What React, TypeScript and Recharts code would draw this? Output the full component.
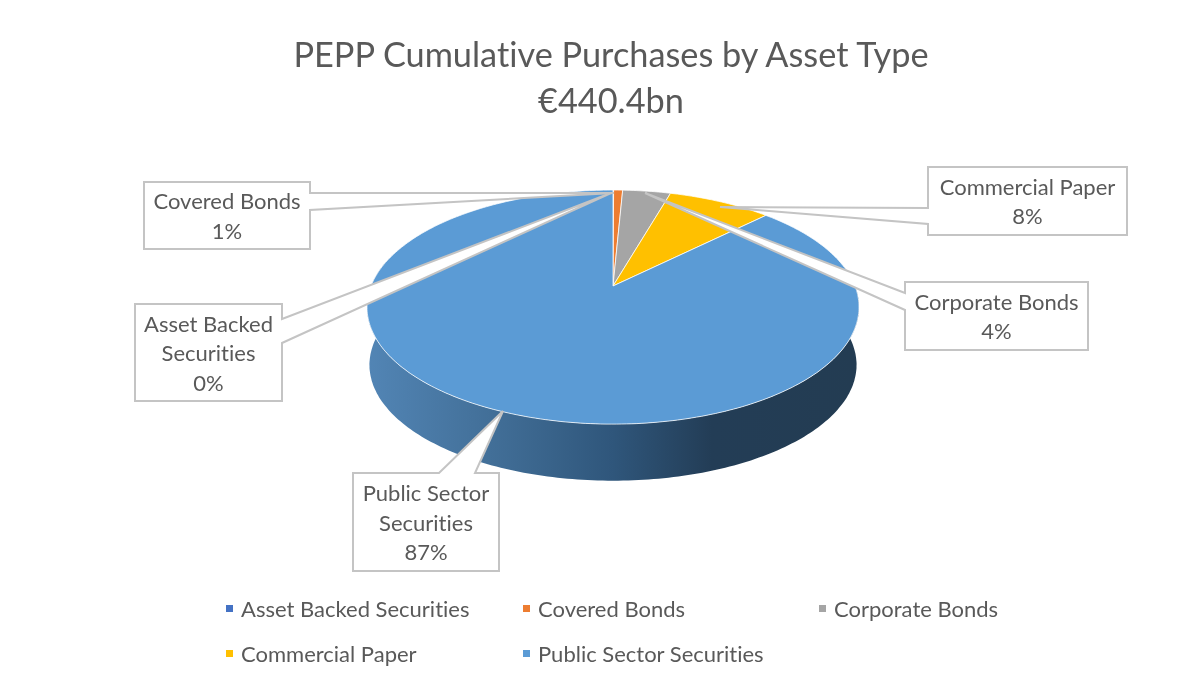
import React from 'react';
import { PieChart, Pie, Legend } from 'recharts';

const categories = ['Asset Backed Securities', 'Covered Bonds', 'Corporate Bonds', 'Commercial Paper', 'Public Sector Securities'];
const purchases = [0.2, 3.1, 16.5, 35.7, 384.9]; // EUR bn, estimated from the slices
const colors = ['#4472c4', '#ed7d31', '#a5a5a5', '#ffc000', '#5b9bd5'];
const labelLines = [['Asset Backed', 'Securities'], ['Covered Bonds'], ['Corporate Bonds'], ['Commercial Paper'], ['Public Sector', 'Securities']];
const titleLines = ['PEPP Cumulative Purchases by Asset Type', '€440.4bn'];

const chartData = categories.map((name, i) => ({ name, value: purchases[i], fill: colors[i] }));

const FONT = 'Lato, sans-serif';
const TEXT = '#595959';
const BORDER = '#c4c4c4';

// callout boxes, same order as the categories
const callouts = [
  { x: 135, y: 304, w: 147, h: 97, side: 'right', a: 319, b: 343, tip: [611, 193] },
  { x: 144, y: 182, w: 166, h: 67, side: 'right', a: 193, b: 210, tip: [614, 193] },
  { x: 905, y: 282, w: 183, h: 68, side: 'left', a: 293, b: 310, tip: [645, 193] },
  { x: 928, y: 167, w: 199, h: 68, side: 'left', a: 208, b: 224, tip: [720, 207] },
  { x: 353, y: 473, w: 146, h: 98, side: 'top', a: 439, b: 475, tip: [503, 411] },
];

// perspective of the tilted disc: far edge is squeezed, near edge stretched
const PERSPECTIVE = 0.18;
const Y_RATIO = 0.468;
const WALL_DROP = 58;
const WALL_SHRINK = 0.99;

const project = (cx: number, cy: number, r: number, deg: number) => {
  const t = (deg * Math.PI) / 180;
  const k = 1 + PERSPECTIVE * Math.cos(t);
  return [cx + (r * Math.sin(t)) / k, cy - (r * Y_RATIO * Math.cos(t)) / k];
};

const arcPoints = (cx: number, cy: number, r: number, from: number, to: number) => {
  const pts: number[][] = [];
  for (let d = from; d < to; d += 1) pts.push(project(cx, cy, r, d));
  pts.push(project(cx, cy, r, to));
  return pts;
};

const toPath = (pts: number[][]) => pts.map((p, i) => `${i ? 'L' : 'M'}${p[0].toFixed(1)},${p[1].toFixed(1)}`).join(' ') + ' Z';

const PerspectiveSector = (props: any) => {
  const { cx, cy, outerRadius, startAngle, endAngle, fill } = props;
  const from = 90 - startAngle;
  const to = 90 - endAngle;
  const wallFrom = Math.max(from, 80);
  const wallTo = Math.min(to, 285);
  const top = arcPoints(cx, cy, outerRadius, from, to);
  let wall = null;
  if (wallTo > wallFrom) {
    const upper = arcPoints(cx, cy, outerRadius, wallFrom, wallTo);
    const lower = arcPoints(cx, cy + WALL_DROP, outerRadius * WALL_SHRINK, wallFrom, wallTo).reverse();
    wall = <path d={toPath([...upper, ...lower])} fill="url(#pieWall)" />;
  }
  return (
    <g>
      {wall}
      <path d={toPath([[cx, cy], ...top])} fill={fill} stroke="#fff" strokeOpacity={0.75} strokeWidth={1} />
    </g>
  );
};

const calloutPath = (c: any) => {
  const l = c.x, r = c.x + c.w, t = c.y, b = c.y + c.h;
  const pts: number[][] = [[l, t]];
  if (c.side === 'top') pts.push([c.a, t], c.tip, [c.b, t]);
  pts.push([r, t]);
  if (c.side === 'right') pts.push([r, c.a], c.tip, [r, c.b]);
  pts.push([r, b], [l, b]);
  if (c.side === 'left') pts.push([l, c.b], c.tip, [l, c.a]);
  return toPath(pts);
};

const renderCallout = (props: any) => {
  const { index, percent } = props;
  const c = callouts[index];
  const lines = [...labelLines[index], `${Math.round(percent * 100)}%`];
  const midX = c.x + c.w / 2;
  const firstY = c.y + c.h / 2 - ((lines.length - 1) * 29.5) / 2;
  return (
    <g key={index}>
      <path d={calloutPath(c)} fill="#fff" stroke={BORDER} strokeWidth={2} />
      <text textAnchor="middle" fontFamily={FONT} fontSize={22} fill={TEXT} style={{ fontVariantLigatures: 'none' }}>
        {lines.map((line, i) => (
          <tspan key={i} x={midX} y={firstY + i * 29.5} dominantBaseline="central">{line}</tspan>
        ))}
      </text>
    </g>
  );
};

const legendCols = [226, 523, 819];
const legendRows = [608, 653];

const renderLegend = ({ payload }: any) => (
  <div style={{ position: 'relative', width: 1202, height: 100 }}>
    {(payload || []).map((item: any, i: number) => (
      <div
        key={item.value}
        style={{
          position: 'absolute',
          left: legendCols[i % 3],
          top: legendRows[Math.floor(i / 3)] - 590 - 15,
          height: 30,
          display: 'flex',
          alignItems: 'center',
          fontFamily: FONT,
          fontSize: 22,
          color: TEXT,
          whiteSpace: 'nowrap',
          fontVariantLigatures: 'none',
        }}
      >
        <span style={{ width: 7, height: 7, background: item.color, marginRight: 8 }} />
        {item.value}
      </div>
    ))}
  </div>
);

export default function App() {
  return (
    <div style={{ position: 'absolute', left: 0, top: 0, width: 1202, height: 673, background: '#fff', overflow: 'hidden', filter: 'blur(0.4px)' }}>
      <PieChart width={1202} height={673} margin={{ top: 0, right: 0, bottom: 0, left: 0 }}>
        <defs>
          <linearGradient id="pieWall" gradientUnits="userSpaceOnUse" x1="367" y1="0" x2="860" y2="0">
            <stop offset="0%" stopColor="#5285b5" />
            <stop offset="25%" stopColor="#426f98" />
            <stop offset="50%" stopColor="#2f567b" />
            <stop offset="70%" stopColor="#233d56" />
            <stop offset="100%" stopColor="#233c52" />
          </linearGradient>
        </defs>
        {titleLines.map((line, i) => (
          <text key={line} x={611} y={53 + i * 46} textAnchor="middle" dominantBaseline="central" fontFamily={FONT} fontSize={34.3} fill={TEXT} style={{ fontVariantLigatures: 'none' }}>
            {line}
          </text>
        ))}
        <Pie
          data={chartData}
          dataKey="value"
          nameKey="name"
          cx={613}
          cy={286}
          innerRadius={0}
          outerRadius={242}
          startAngle={90}
          endAngle={-270}
          stroke="none"
          shape={PerspectiveSector}
          label={renderCallout}
          labelLine={false}
          isAnimationActive={false}
        />
        <Legend content={renderLegend} itemSorter={null} wrapperStyle={{ left: 0, top: 590, width: 1202 }} />
      </PieChart>
    </div>
  );
}
